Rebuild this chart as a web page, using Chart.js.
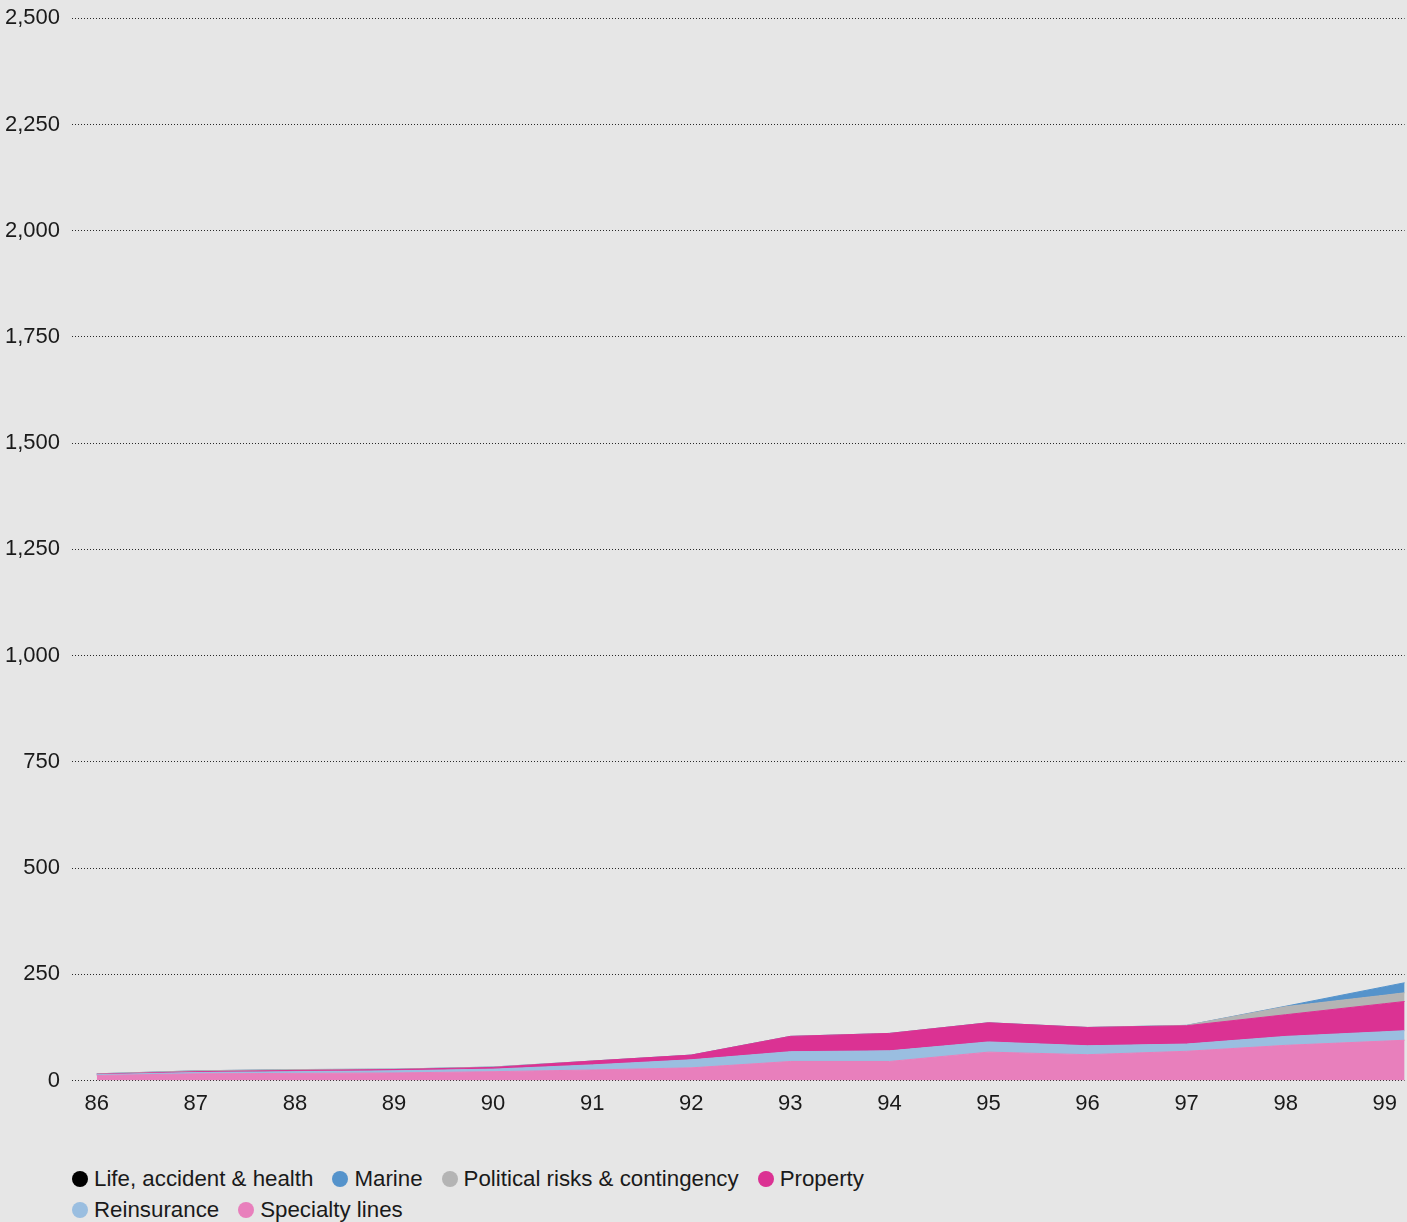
<!DOCTYPE html>
<html>
<head>
<meta charset="utf-8">
<script src="https://cdn.jsdelivr.net/npm/chart.js@4.4.1/dist/chart.umd.min.js"></script>
<style>
    html, body { margin: 0; padding: 0; background: #e6e6e6; overflow: hidden; }
    body { width: 1407px; height: 1222px; position: relative; font-family: 'Liberation Sans', Arial, sans-serif; }
    #chartBox { position: absolute; left: 0; top: -7px; width: 1407px; height: 1134px; }
    #legend { position: absolute; left: 72px; top: 1163px; width: 900px; display: flex; flex-wrap: wrap; font-size: 22.3px; color: #1a1a1a; }
    .item { display: flex; align-items: center; height: 31px; margin-right: 19px; white-space: nowrap; }
    .dot { width: 16px; height: 16px; border-radius: 50%; margin-right: 6px; }
</style>
</head>
<body>
<div id="chartBox"><canvas id="chart"></canvas></div>
<div id="legend"></div>
<script>
// Années (la dernière est coupée par le bord droit)
const years = [1986, 1987, 1988, 1989, 1990, 1991, 1992, 1993, 1994, 1995, 1996, 1997, 1998, 1999, 2000];

// Valeurs par catégorie (empilées)
const specialtyLines = [12, 16, 17, 18, 21, 25, 30, 45, 45, 67, 61, 69, 83, 93, 103];
const reinsurance    = [2, 3, 4, 5, 6, 12, 19, 23, 25, 24, 21, 17, 21, 22, 24];
const property       = [1, 2, 3, 3, 4, 9, 11, 36, 41, 45, 43, 43, 51, 66, 80];
const politicalRisks = [1, 2, 2, 1, 1, 0, 0, 0, 0, 0, 0, 1, 19, 20, 22];
const marine         = [0, 0, 0, 0, 0, 0, 0, 0, 0, 0, 0, 0, 1, 20, 38];
const lifeAccident   = [0, 0, 0, 0, 0, 0, 0, 0, 0, 0, 0, 0, 0, 0, 0];

const yTicks = [0, 250, 500, 750, 1000, 1250, 1500, 1750, 2000, 2250, 2500];

// Ordre de la légende
const legendNames = ['Life, accident & health', 'Marine', 'Political risks & contingency', 'Property', 'Reinsurance', 'Specialty lines'];
const legendColors = ['#000000', '#5593cb', '#b4b4b4', '#db3293', '#9abee0', '#e87fbc'];

function toPoints(values) {
    return values.map((v, i) => ({ x: years[i], y: v }));
}

// Empilement : du bas vers le haut
const stack = [
    { label: 'Specialty lines', values: specialtyLines, color: '#e87fbc', fill: 'origin' },
    { label: 'Reinsurance', values: reinsurance, color: '#9abee0', fill: '-1' },
    { label: 'Property', values: property, color: '#db3293', fill: '-1' },
    { label: 'Political risks & contingency', values: politicalRisks, color: '#b4b4b4', fill: '-1' },
    { label: 'Marine', values: marine, color: '#5593cb', fill: '-1' },
    { label: 'Life, accident & health', values: lifeAccident, color: '#000000', fill: '-1' }
];

const datasets = stack.map(s => ({
    label: s.label,
    data: toPoints(s.values),
    backgroundColor: s.color,
    borderColor: s.label === 'Life, accident & health' ? 'rgba(0,0,0,0)' : s.color,
    borderWidth: 1,
    pointRadius: 0,
    tension: 0,
    fill: s.fill
}));

const font = { family: "'Liberation Sans', Arial, sans-serif", size: 22 };

new Chart(document.getElementById('chart'), {
    type: 'line',
    data: { datasets: datasets },
    options: {
        responsive: true,
        maintainAspectRatio: false,
        animation: false,
        layout: { padding: { top: 12, left: 0, right: 0, bottom: 0 } },
        plugins: {
            legend: { display: false },
            tooltip: { enabled: false }
        },
        scales: {
            x: {
                type: 'linear',
                min: 1985.75,
                max: 1999.2,
                grid: { display: false, drawTicks: false },
                border: { display: false },
                ticks: {
                    stepSize: 1,
                    includeBounds: false,
                    autoSkip: false,
                    maxRotation: 0,
                    padding: 10,
                    color: '#1a1a1a',
                    font: font,
                    callback: v => Number.isInteger(v) ? String(v).slice(2) : ''
                }
            },
            y: {
                stacked: true,
                min: 0,
                max: 2500,
                afterFit: s => { s.width = 72; },
                afterBuildTicks: s => { s.ticks = yTicks.map(v => ({ value: v })); },
                grid: {
                    drawTicks: false,
                    color: 'rgba(20,20,20,0.9)',
                    lineWidth: 1
                },
                border: { display: false, dash: [1, 2] },
                ticks: {
                    padding: 12,
                    color: '#1a1a1a',
                    font: font,
                    callback: v => v.toLocaleString('en-US')
                }
            }
        }
    }
});

// Légende HTML
const legend = document.getElementById('legend');
legendNames.forEach((name, i) => {
    const item = document.createElement('div');
    item.className = 'item';
    item.innerHTML = `<span class="dot" style="background:${legendColors[i]}"></span><span>${name}</span>`;
    legend.appendChild(item);
});
</script>
</body>
</html>
